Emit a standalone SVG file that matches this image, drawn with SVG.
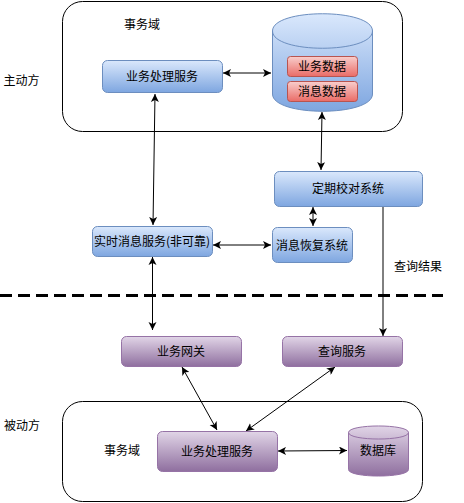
<svg xmlns="http://www.w3.org/2000/svg" width="464" height="503" viewBox="0 0 464 503">
<style>
text{font-family:"Noto Sans CJK SC","Liberation Sans",sans-serif;font-size:12px;fill:#000;text-anchor:middle}
.c{fill:none;stroke:#000;stroke-width:1}
.b{stroke:#6c8ebf;fill:url(#blue)}
.p{stroke:#9673a6;fill:url(#purple)}
.r{stroke:#b85450;fill:url(#red)}
.e{fill:#fff;stroke:#000;stroke-width:1}
.l{fill:none;stroke:#000;stroke-width:1;marker-start:url(#as);marker-end:url(#ae)}
</style>
<defs>
<linearGradient id="blue" x1="0" y1="0" x2="0" y2="1"><stop offset="0" stop-color="#dae8fc"/><stop offset="1" stop-color="#7ea6e0"/></linearGradient>
<linearGradient id="purple" x1="0" y1="0" x2="0" y2="1"><stop offset="0" stop-color="#e1d5e7"/><stop offset="1" stop-color="#8f6f9f"/></linearGradient>
<linearGradient id="red" x1="0" y1="0" x2="0" y2="1"><stop offset="0" stop-color="#f8cecc"/><stop offset="1" stop-color="#ea6b66"/></linearGradient>
<marker id="ae" markerUnits="userSpaceOnUse" markerWidth="10" markerHeight="10" refX="8" refY="4" orient="auto"><path d="M0 0L8 4L0 8L2 4Z" fill="#000"/></marker>
<marker id="as" markerUnits="userSpaceOnUse" markerWidth="10" markerHeight="10" refX="0" refY="4" orient="auto"><path d="M8 0L0 4L8 8L6 4Z" fill="#000"/></marker>
</defs>
<g id="top-domain"><rect class="e" x="62.5" y="1.5" width="340" height="130" rx="20"/><text x="142" y="29">事务域</text></g>
<g id="bottom-domain"><rect class="e" x="62.5" y="401.5" width="360" height="100" rx="20"/><text x="122" y="455">事务域</text></g>
<text x="21.500" y="85">主动方</text>
<text x="22" y="430">被动方</text>
<text x="418" y="271">查询结果</text>
<path d="M0 295.5H443" fill="none" stroke="#000" stroke-width="3" stroke-dasharray="12 6"/>
<g id="connectors">
<path class="l" d="M223 73H271"/>
<path class="l" d="M155 94L153 225"/>
<path class="l" d="M322 112L321 170"/>
<path class="l" d="M313 207V226"/>
<path class="l" d="M213 245H271"/>
<path class="l" d="M152.500 257V330"/>
<path d="M383 207V336" class="c" marker-end="url(#ae)"/>
<path class="l" d="M182 367L217 430"/>
<path class="l" d="M335 367L246 431"/>
<path class="l" d="M278 451L347 450.5"/>
</g>
<g id="svc-top"><rect class="b" x="102.500" y="60.500" width="120" height="32" rx="5"/><text x="162" y="81">业务处理服务</text></g>
<g id="db-top"><path class="b" d="M272.500 31C272.500 8 372.500 8 372.500 31V94C372.500 117 272.500 117 272.500 94Z"/><path d="M272.500 31C272.500 54 372.500 54 372.500 31" fill="none" stroke="#6c8ebf"/>
<rect class="r" x="287.500" y="56.500" width="70" height="20" rx="3"/><text x="322" y="71">业务数据</text>
<rect class="r" x="287.500" y="81.500" width="70" height="20" rx="3"/><text x="322" y="96">消息数据</text></g>
<g id="check"><rect class="b" x="274.500" y="171.500" width="148" height="35" rx="5"/><text x="348" y="193">定期校对系统</text></g>
<g id="mq"><rect class="b" x="92.500" y="226.500" width="120" height="30" rx="5"/><text x="152" y="246">实时消息服务(非可靠)</text></g>
<g id="recover"><rect class="b" x="272.500" y="227.500" width="80" height="35" rx="5"/><text x="312" y="250">消息恢复系统</text></g>
<g id="gateway"><rect class="p" x="121.500" y="336.500" width="120" height="30" rx="5"/><text x="181" y="356">业务网关</text></g>
<g id="query"><rect class="p" x="282.500" y="336.500" width="120" height="30" rx="5"/><text x="342" y="356">查询服务</text></g>
<g id="svc-bottom"><rect class="p" x="157.500" y="431.500" width="120" height="40" rx="5"/><text x="217" y="456">业务处理服务</text></g>
<g id="db-bottom"><path class="p" d="M348.500 432.500C348.500 423.800 408.500 423.800 408.500 432.500V469.500C408.500 478.200 348.500 478.200 348.500 469.500Z"/><path d="M348.500 432.500C348.500 441.200 408.500 441.200 408.500 432.500" fill="none" stroke="#9673a6"/><text x="378" y="455">数据库</text></g>
</svg>
